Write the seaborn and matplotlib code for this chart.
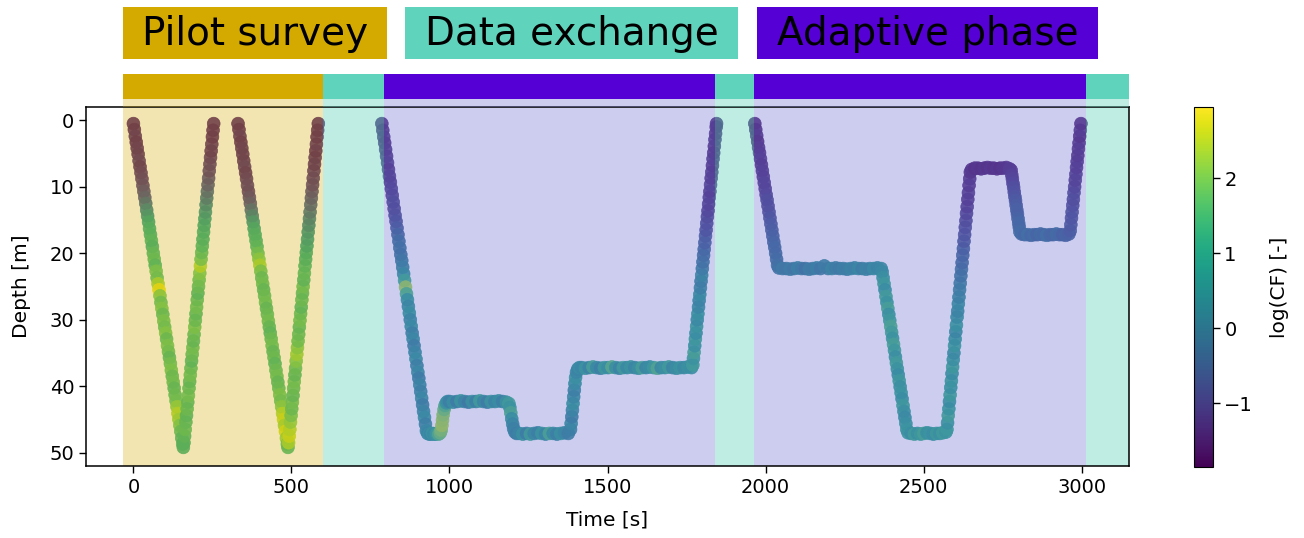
import matplotlib
matplotlib.use("Agg")
import matplotlib.pyplot as plt
import pandas as pd
import seaborn as sns
from matplotlib.patches import Rectangle
from matplotlib.colors import Normalize
from matplotlib.cm import ScalarMappable

plt.rcParams['font.family'] = ['DejaVu Sans']

# ---------------- data ----------------
pilot_time = [
    0, 3, 6, 9, 12, 15, 18, 21, 24, 27, 30, 33, 36, 39, 42, 45, 48, 51, 54, 57,
    60, 63, 66, 69, 72, 75, 78, 81, 84, 87, 90, 93, 96, 99, 102, 105, 108, 111, 114, 117,
    120, 123, 126, 129, 132, 135, 138, 141, 144, 147, 150, 153, 156, 158,
    160, 162, 164, 166, 168, 170, 172, 174, 176, 178, 180, 182, 184, 186, 188, 190,
    192, 194, 196, 198, 200, 202, 204, 206, 208, 210, 212, 214, 216, 218, 220, 222,
    224, 226, 228, 230, 232, 234, 236, 238, 240, 242, 244, 246, 248, 250, 252, 254,
    331, 334, 337, 340, 343, 346, 349, 352, 355, 358, 361, 364, 367, 370, 373, 376,
    379, 382, 385, 388, 391, 394, 397, 400, 403, 406, 409, 412, 415, 418, 421, 424,
    427, 430, 433, 436, 439, 442, 445, 448, 451, 454, 457, 460, 463, 466, 469, 472,
    475, 478, 481, 484, 487, 489,
    491, 493, 495, 497, 499, 501, 503, 505, 507, 509, 511, 513, 515, 517, 519, 521,
    523, 525, 527, 529, 531, 533, 535, 537, 539, 541, 543, 545, 547, 549, 551, 553,
    555, 557, 559, 561, 563, 565, 567, 569, 571, 573, 575, 577, 579, 581, 583, 585,
]
pilot_depth = [
    0.5, 1.4, 2.4, 3.3, 4.2, 5.1, 6.1, 7.0, 7.9, 8.8, 9.8, 10.7, 11.6, 12.5, 13.5, 14.4,
    15.3, 16.3, 17.2, 18.1, 19.0, 20.0, 20.9, 21.8, 22.7, 23.7, 24.6, 25.5, 26.4, 27.4,
    28.3, 29.2, 30.2, 31.1, 32.0, 32.9, 33.9, 34.8, 35.7, 36.6, 37.6, 38.5, 39.4, 40.3,
    41.3, 42.2, 43.1, 44.1, 45.0, 45.9, 46.8, 47.8, 48.7, 49.2,
    48.5, 47.5, 46.5, 45.4, 44.4, 43.4, 42.4, 41.4, 40.3, 39.3, 38.3, 37.3, 36.2, 35.2,
    34.2, 33.2, 32.2, 31.1, 30.1, 29.1, 28.1, 27.0, 26.0, 25.0, 24.0, 23.0, 21.9, 20.9,
    19.9, 18.9, 17.9, 16.8, 15.8, 14.8, 13.8, 12.7, 11.7, 10.7, 9.7, 8.7, 7.6, 6.6,
    5.6, 4.6, 3.6, 2.5, 1.5, 0.5,
    0.5, 1.4, 2.4, 3.3, 4.2, 5.1, 6.1, 7.0, 7.9, 8.8, 9.8, 10.7, 11.6, 12.5, 13.5, 14.4,
    15.3, 16.3, 17.2, 18.1, 19.0, 20.0, 20.9, 21.8, 22.7, 23.7, 24.6, 25.5, 26.4, 27.4,
    28.3, 29.2, 30.2, 31.1, 32.0, 32.9, 33.9, 34.8, 35.7, 36.6, 37.6, 38.5, 39.4, 40.3,
    41.3, 42.2, 43.1, 44.1, 45.0, 45.9, 46.8, 47.8, 48.7, 49.2,
    48.5, 47.5, 46.5, 45.4, 44.4, 43.4, 42.4, 41.4, 40.3, 39.3, 38.3, 37.3, 36.2, 35.2,
    34.2, 33.2, 32.2, 31.1, 30.1, 29.1, 28.1, 27.0, 26.0, 25.0, 24.0, 23.0, 21.9, 20.9,
    19.9, 18.9, 17.9, 16.8, 15.8, 14.8, 13.8, 12.7, 11.7, 10.7, 9.7, 8.7, 7.6, 6.6,
    5.6, 4.6, 3.6, 2.5, 1.5, 0.5,
]
pilot_logcf = [
    -1.6, -1.6, -1.5, -1.6, -1.5, -1.5, -1.4, -1.5, -1.4, -1.3, -1.2, -1.0, -0.8, -0.4,
    0.1, 0.5, 0.9, 1.1, 1.2, 1.3, 1.2, 1.4, 1.5, 1.3, 1.7, 1.6, 2.2, 2.8, 1.9, 1.6,
    1.8, 1.5, 1.7, 1.6, 1.8, 1.5, 1.7, 1.6, 1.4, 1.6, 1.7, 1.5, 1.6, 1.4, 1.5, 1.6,
    2.0, 2.3, 2.1, 1.8, 1.5, 1.3, 1.2, 1.2,
    1.2, 1.3, 1.5, 1.4, 1.3, 1.5, 1.4, 1.6, 1.5, 1.4, 1.6, 1.5, 1.3, 1.5, 1.6, 1.4,
    1.5, 1.7, 1.5, 1.4, 1.6, 1.5, 1.3, 1.5, 1.6, 1.8, 2.3, 1.7, 1.5, 1.3, 1.2, 1.1,
    1.0, 0.8, 0.5, 0.2, -0.2, -0.5, -0.8, -1.0, -1.2, -1.3, -1.4, -1.5, -1.5, -1.6,
    -1.6, -1.6,
    -1.6, -1.6, -1.5, -1.6, -1.5, -1.5, -1.5, -1.4, -1.5, -1.4, -1.3, -1.3, -1.1, -0.9,
    -0.5, 0.0, 0.5, 0.9, 1.1, 1.2, 1.3, 1.6, 1.9, 2.2, 1.7, 1.5, 1.6, 1.4, 1.5, 1.6,
    1.4, 1.5, 1.6, 1.4, 1.3, 1.5, 1.6, 1.4, 1.5, 1.3, 1.5, 1.6, 1.4, 1.5, 1.7, 1.6,
    1.9, 2.3, 2.5, 2.2, 2.6, 2.1, 1.6, 1.4,
    2.2, 2.5, 2.3, 2.0, 1.7, 1.5, 1.6, 1.4, 1.5, 1.6, 1.4, 1.5, 1.8, 2.1, 1.9, 1.6,
    1.5, 1.4, 1.6, 1.5, 1.3, 1.5, 1.4, 1.6, 1.3, 1.4, 1.3, 1.2, 1.1, 0.9, 0.7, 0.5,
    0.2, 0.0, -0.3, -0.6, -0.8, -1.0, -1.2, -1.3, -1.4, -1.5, -1.5, -1.6, -1.5, -1.6,
    -1.6, -1.6,
]

exchange_time = [
    786, 789, 792, 795, 798, 801, 804, 807, 810, 813, 816, 819, 822, 825, 828, 831,
    834, 837, 840, 843, 846, 849, 852, 855, 858, 861, 864, 867, 870, 873, 876, 879,
    882, 885, 888, 891, 894, 897, 900, 903, 906, 909, 912, 915, 918, 921, 924, 927,
    931, 936, 941, 946, 951, 956, 961, 966, 971,
    974, 976, 978, 980, 983, 986, 990, 994,
    1000, 1012, 1024, 1036, 1048, 1060, 1072, 1084, 1096, 1108, 1120, 1132, 1144, 1156,
    1168, 1180,
    1188, 1191, 1194, 1197, 1200, 1203, 1207, 1212,
    1220, 1232, 1244, 1256, 1268, 1280, 1292, 1304, 1316, 1328, 1340, 1352, 1364, 1376,
    1383, 1385, 1387, 1389, 1391, 1393, 1395, 1397, 1399, 1402, 1406, 1411,
    1418, 1430, 1442, 1454, 1466, 1478, 1490, 1502, 1514, 1526, 1538, 1550, 1562, 1574,
    1586, 1598, 1610, 1622, 1634, 1646, 1658, 1670, 1682, 1694, 1706, 1718, 1730, 1742,
    1754, 1766,
    1770, 1772, 1774, 1776, 1778, 1780, 1782, 1784, 1786, 1788, 1790, 1792, 1794, 1796,
    1798, 1800, 1802, 1804, 1806, 1808, 1810, 1812, 1814, 1816, 1818, 1820, 1822, 1824,
    1826, 1828, 1830, 1832, 1834, 1836, 1838, 1840, 1842, 1844, 1845,
]
exchange_depth = [
    0.5, 1.5, 2.5, 3.4, 4.4, 5.4, 6.4, 7.4, 8.4, 9.3, 10.3, 11.3, 12.3, 13.3, 14.3, 15.2,
    16.2, 17.2, 18.2, 19.2, 20.2, 21.1, 22.1, 23.1, 24.1, 25.1, 26.1, 27.0, 28.0, 29.0,
    30.0, 31.0, 32.0, 32.9, 33.9, 34.9, 35.9, 36.9, 37.9, 38.8, 39.8, 40.8, 41.8, 42.8,
    43.8, 44.7, 45.7, 46.7,
    47.1, 47.2, 47.2, 47.1, 47.2, 47.2, 47.1, 47.2, 47.0,
    46.6, 45.9, 45.1, 44.3, 43.5, 42.9, 42.5, 42.3,
    42.3, 42.4, 42.3, 42.2, 42.3, 42.4, 42.3, 42.3, 42.2, 42.3, 42.4, 42.3, 42.3, 42.2,
    42.3, 42.4,
    42.6, 43.2, 44.0, 44.9, 45.7, 46.4, 46.9, 47.1,
    47.1, 47.2, 47.1, 47.2, 47.1, 47.0, 47.1, 47.2, 47.1, 47.1, 47.2, 47.1, 47.0, 47.1,
    46.5, 45.6, 44.6, 43.6, 42.6, 41.6, 40.6, 39.6, 38.7, 37.9, 37.4, 37.2,
    37.2, 37.3, 37.2, 37.1, 37.2, 37.3, 37.2, 37.2, 37.1, 37.2, 37.3, 37.2, 37.2, 37.1,
    37.2, 37.3, 37.2, 37.2, 37.1, 37.2, 37.3, 37.2, 37.2, 37.1, 37.2, 37.3, 37.2, 37.2,
    37.1, 37.2,
    36.8, 35.8, 34.9, 33.9, 32.9, 32.0, 31.0, 30.0, 29.1, 28.1, 27.1, 26.2, 25.2, 24.2,
    23.3, 22.3, 21.3, 20.3, 19.4, 18.4, 17.4, 16.5, 15.5, 14.5, 13.6, 12.6, 11.6, 10.7,
    9.7, 8.7, 7.8, 6.8, 5.8, 4.9, 3.9, 2.9, 2.0, 1.0, 0.5,
]
exchange_logcf = [
    -1.4, -1.4, -1.3, -1.4, -1.3, -1.3, -1.2, -1.3, -1.2, -1.2, -1.1, -1.1, -1.0, -1.0,
    -0.9, -0.8, -0.6, -0.4, -0.2, -0.1, -0.1, 0.1, 0.3, 0.6, 1.2, 2.2, 1.4, 0.8, 0.6, 0.8,
    0.5, 0.7, 0.4, 0.6, 0.3, 0.5, 0.7, 0.4, 0.6, 0.3, 0.5, 0.4, 0.6, 0.3, 0.5, 0.7, 0.4, 0.6,
    0.5, 0.8, 0.6, 1.0, 0.7, 0.9, 1.1, 1.5, 1.8,
    2.0, 2.3, 2.2, 2.1, 1.8, 1.5, 1.0, 0.8,
    0.4, 0.8, 0.3, 1.0, 0.5, 0.2, 0.9, 0.4, 1.2, 0.6, 0.3, 1.0, 0.5, 0.8, 0.4, 0.9,
    1.2, 1.0, 1.4, 0.8, 0.6, 0.4, 0.5, 0.3,
    0.5, 0.9, 0.3, 1.2, 0.6, 0.4, 1.0, 0.5, 1.4, 0.7, 0.4, 0.9, 0.6, 0.3,
    0.4, 0.6, 0.3, 0.5, 0.8, 0.6, 0.4, 0.7, 0.9, 0.6, 0.5, 0.8,
    0.6, 1.0, 0.5, 1.3, 0.7, 0.4, 1.1, 0.8, 1.6, 0.9, 0.5, 1.2, 0.7, 1.0, 0.6, 0.9,
    1.3, 0.6, 0.8, 1.1, 1.5, 0.7, 0.9, 1.2, 0.6, 0.8, 1.0, 0.7, 0.9, 0.8,
    1.2, 1.0, 1.3, 0.9, 1.1, 0.8, 1.0, 0.7, 0.9, 0.6, 0.5, 0.7, 0.4, 0.3, 0.5, 0.2,
    0.0, -0.2, -0.3, -0.5, -0.6, -0.8, -0.9, -1.0, -1.1, -1.2, -1.2, -1.3, -1.2, -1.3,
    -1.3, -1.4, -1.3, -1.4, -1.4, -1.3, -1.4, -1.4, -1.4,
]

adaptive_time = [
    1966, 1969, 1972, 1975, 1978, 1981, 1984, 1987, 1990, 1993, 1996, 1999, 2002, 2005,
    2008, 2011, 2014, 2017, 2020, 2023, 2026, 2029, 2032, 2035, 2038,
    2042, 2054, 2066, 2078, 2090, 2102, 2114, 2126, 2138, 2150, 2162, 2174, 2186, 2198,
    2210, 2222, 2234, 2246, 2258, 2270, 2282, 2294, 2306, 2318, 2330, 2342, 2354, 2366,
    2369, 2372, 2375, 2378, 2381, 2384, 2387, 2390, 2393, 2396, 2399, 2402, 2405, 2408,
    2411, 2414, 2417, 2420, 2423, 2426, 2429, 2432, 2435, 2438, 2441, 2444, 2447,
    2451, 2461, 2471, 2481, 2491, 2501, 2511, 2521, 2531, 2541, 2551, 2561, 2571,
    2574, 2576, 2578, 2580, 2582, 2584, 2586, 2588, 2590, 2592, 2594, 2596, 2598, 2600,
    2602, 2604, 2606, 2608, 2610, 2612, 2614, 2616, 2618, 2620, 2622, 2624, 2626, 2628,
    2630, 2632, 2634, 2636, 2638, 2640, 2642, 2644, 2646, 2648,
    2652, 2662, 2672, 2682, 2692, 2702, 2712, 2722, 2732, 2742, 2752, 2762, 2772,
    2777, 2779, 2781, 2783, 2785, 2787, 2789, 2791, 2793, 2795, 2797, 2799, 2801, 2803, 2805,
    2810, 2820, 2830, 2840, 2850, 2860, 2870, 2880, 2890, 2900, 2910, 2920, 2930, 2940,
    2950, 2960,
    2964, 2966, 2968, 2970, 2972, 2974, 2976, 2978, 2980, 2982, 2984, 2986, 2988, 2990,
    2992, 2994, 2996, 2998,
]
adaptive_depth = [
    0.5, 1.4, 2.3, 3.2, 4.1, 4.9, 5.8, 6.7, 7.6, 8.5, 9.4, 10.3, 11.2, 12.0, 12.9, 13.8,
    14.7, 15.6, 16.5, 17.4, 18.3, 19.1, 20.0, 20.9, 21.8,
    22.2, 22.3, 22.3, 22.4, 22.3, 22.2, 22.3, 22.3, 22.4, 22.3, 22.2, 22.3, 21.9, 22.3,
    22.3, 22.2, 22.3, 22.3, 22.4, 22.3, 22.2, 22.3, 22.3, 22.4, 22.3, 22.3, 22.2, 22.3,
    22.8, 23.7, 24.6, 25.5, 26.5, 27.4, 28.3, 29.2, 30.1, 31.0, 31.9, 32.8, 33.7, 34.6,
    35.6, 36.5, 37.4, 38.3, 39.2, 40.1, 41.0, 41.9, 42.9, 43.8, 44.7, 45.6, 46.5,
    47.0, 47.1, 47.2, 47.1, 47.2, 47.1, 47.0, 47.1, 47.2, 47.1, 47.1, 47.0, 46.9,
    46.5, 45.5, 44.4, 43.4, 42.3, 41.3, 40.2, 39.2, 38.1, 37.1, 36.0, 35.0, 33.9, 32.9,
    31.8, 30.8, 29.6, 28.7, 27.6, 26.6, 25.5, 24.5, 23.4, 22.4, 21.4, 20.3, 19.3, 18.2,
    17.2, 16.1, 15.1, 14.0, 13.0, 11.9, 10.9, 9.8, 8.8, 7.8,
    7.4, 7.2, 7.2, 7.3, 7.2, 7.1, 7.2, 7.2, 7.3, 7.2, 7.2, 7.1, 7.3,
    7.5, 8.2, 8.8, 9.5, 10.1, 10.8, 11.5, 12.1, 12.8, 13.5, 14.1, 14.8, 15.5, 16.1, 16.8,
    17.1, 17.2, 17.2, 17.3, 17.2, 17.2, 17.1, 17.2, 17.3, 17.2, 17.2, 17.1, 17.2, 17.2,
    17.3, 17.1,
    16.6, 15.7, 14.7, 13.8, 12.8, 11.9, 10.9, 10.0, 9.0, 8.1, 7.1, 6.2, 5.3, 4.3,
    3.4, 2.4, 1.5, 0.5,
]
adaptive_logcf = [
    -1.5, -1.5, -1.4, -1.5, -1.4, -1.4, -1.3, -1.4, -1.3, -1.3, -1.2, -1.2, -1.1, -1.0,
    -1.0, -0.9, -0.8, -0.7, -0.6, -0.5, -0.4, -0.3, -0.3, -0.2, -0.1,
    0.0, 0.2, 0.1, 0.3, 0.1, 0.4, 0.2, 0.0, 0.3, 0.2, 0.4, 0.1, 0.3, 0.2, 0.5, 0.3,
    0.2, 0.4, 0.3, 0.5, 0.4, 0.6, 0.3, 0.5, 0.4, 0.7, 0.5, 0.6,
    0.7, 0.9, 1.1, 0.8, 1.2, 1.0, 1.3, 0.9, 1.1, 1.4, 1.2, 1.0, 1.3, 1.1, 0.9, 1.2,
    1.0, 0.8, 1.1, 0.9, 1.0, 0.8, 1.1, 0.9, 0.7, 0.9, 1.0,
    1.0, 0.8, 1.2, 0.9, 1.1, 1.3, 0.9, 1.0, 0.8, 1.1, 0.9, 1.2, 1.0,
    1.1, 0.9, 1.2, 1.0, 0.8, 1.1, 0.9, 1.0, 0.8, 1.1, 0.9, 0.7, 1.0, 0.8, 0.6, 0.9,
    0.7, 0.5, 0.6, 0.4, 0.3, 0.2, 0.0, -0.1, -0.3, -0.4, -0.5, -0.7, -0.8, -0.9,
    -1.0, -1.1, -1.2, -1.3, -1.3, -1.4, -1.4, -1.5,
    -1.5, -1.6, -1.5, -1.6, -1.5, -1.6, -1.5, -1.6, -1.5, -1.6, -1.5, -1.5, -1.4,
    -1.4, -1.3, -1.2, -1.1, -1.0, -0.9, -0.8, -0.7, -0.6, -0.5, -0.5, -0.4, -0.3, -0.3, -0.2,
    -0.2, -0.3, -0.1, -0.3, -0.2, -0.4, -0.2, -0.3, -0.1, -0.3, -0.4, -0.2, -0.3, -0.5,
    -0.4, -0.5,
    -0.6, -0.7, -0.8, -0.8, -0.9, -1.0, -1.0, -1.1, -1.2, -1.2, -1.3, -1.3, -1.4, -1.4,
    -1.4, -1.5, -1.4, -1.5,
]

# phases
phase_names = ["Pilot survey", "Data exchange", "Adaptive phase"]
phase_colors = ["#d4aa00", "#5fd3bc", "#5500d4"]
shade_colors = ["#d4aa00", "#5fd3bc", "#7070d4"]
shade_alpha = [0.30, 0.40, 0.35]
span_start = [-32, 600, 794, 1840, 1963, 3013]
span_end = [600, 794, 1840, 1963, 3013, 3150]
span_phase = [0, 1, 2, 1, 2, 1]

cf_min, cf_max = -1.85, 2.95

# ---------------- figure ----------------
W, H = 1304, 538
fig = plt.figure(figsize=(W / 100, H / 100), dpi=100)

def fx(px):
    return px / W

def fy(py):
    return 1 - py / H

ax = fig.add_axes([fx(86), fy(466), fx(1129) - fx(86), fy(107) - fy(466)])
strip = fig.add_axes([fx(86), fy(107), fx(1129) - fx(86), fy(74) - fy(107)], sharex=ax)
cax = fig.add_axes([fx(1193.5), fy(467), fx(1212.5) - fx(1193.5), fy(107) - fy(467)])

df = pd.DataFrame({
    "time": pilot_time + exchange_time + adaptive_time,
    "depth": pilot_depth + exchange_depth + adaptive_depth,
    "logcf": pilot_logcf + exchange_logcf + adaptive_logcf,
})

sns.scatterplot(data=df, x="time", y="depth", hue="logcf", palette="viridis",
                hue_norm=(cf_min, cf_max), s=85, edgecolor="face", linewidth=0.5,
                alpha=0.9, legend=False, ax=ax, zorder=2)

for s0, s1, p in zip(span_start, span_end, span_phase):
    ax.axvspan(s0, s1, color=shade_colors[p], alpha=shade_alpha[p], lw=0, zorder=3)
    strip.axvspan(s0, s1, ymin=8 / 33, ymax=1, color=phase_colors[p], lw=0)
    strip.axvspan(s0, s1, ymin=0, ymax=8 / 33, color=shade_colors[p],
                  alpha=shade_alpha[p], lw=0)
strip.set_axis_off()

ax.set_xlim(-150, 3150)
ax.set_ylim(52, -2)
ax.set_xticks([0, 500, 1000, 1500, 2000, 2500, 3000])
ax.set_yticks([0, 10, 20, 30, 40, 50])
ax.tick_params(labelsize=14, length=5, width=1.0)
ax.set_xlabel("Time [s]", fontsize=14.5, labelpad=10)
ax.set_ylabel("Depth [m]", fontsize=14.5, labelpad=13)
for sp in ax.spines.values():
    sp.set_zorder(5)
    sp.set_linewidth(1.1)

# colorbar
sm = ScalarMappable(norm=Normalize(cf_min, cf_max), cmap="viridis")
cb = fig.colorbar(sm, cax=cax, ticks=[-1, 0, 1, 2])
cb.ax.tick_params(labelsize=14, length=5, width=1.0)
cb.set_label("log(CF) [-]", fontsize=14.5, labelpad=12)

# phase label boxes
boxes = [(123, 387), (405, 738), (757, 1098)]
for (x0, x1), name, col in zip(boxes, phase_names, phase_colors):
    fig.patches.append(Rectangle((fx(x0), fy(59)), fx(x1) - fx(x0), fy(7) - fy(59),
                                 transform=fig.transFigure, facecolor=col,
                                 edgecolor="none"))
    fig.text(fx((x0 + x1) / 2), fy(34), name, fontsize=28, color="black",
             ha="center", va="center")

fig.savefig("out.png", dpi=100)
